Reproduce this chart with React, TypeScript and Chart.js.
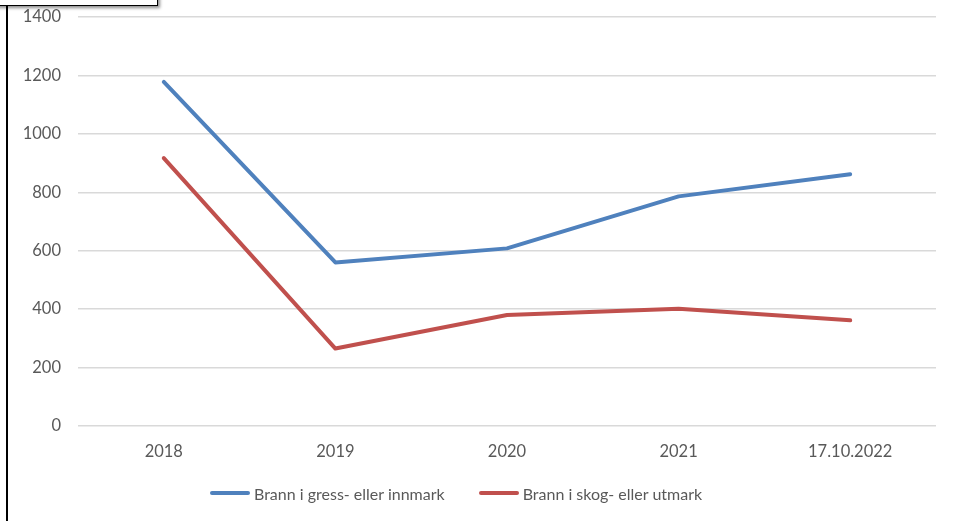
import React, { useEffect, useRef } from "react";
import { Chart, registerables } from "chart.js";

Chart.register(...registerables);

const categories = ["2018", "2019", "2020", "2021", "17.10.2022"];
const grassValues = [1178, 560, 608, 786, 862];
const forestValues = [917, 265, 380, 401, 362];
const yTicks = [0, 200, 400, 600, 800, 1000, 1200, 1400];
const seriesNames = ["Brann i gress- eller innmark", "Brann i skog- eller utmark"];
const seriesColors = ["#4f81bd", "#c0504d"];

const FONT = "Lato, 'Open Sans', sans-serif";

export default function App() {
  const ref = useRef<HTMLCanvasElement | null>(null);

  useEffect(() => {
    if (!ref.current) return;
    const chart = new Chart(ref.current, {
      type: "line",
      data: {
        labels: categories,
        datasets: [grassValues, forestValues].map((vals, i) => ({
          label: seriesNames[i],
          data: vals,
          borderColor: seriesColors[i],
          backgroundColor: seriesColors[i],
          borderWidth: 4,
          borderCapStyle: "round" as const,
          borderJoinStyle: "round" as const,
          pointRadius: 0,
          tension: 0,
        })),
      },
      options: {
        animation: false,
        responsive: false,
        devicePixelRatio: 1,
        layout: { autoPadding: false, padding: { left: 0, top: 17, right: 21, bottom: 47 } },
        plugins: {
          tooltip: { enabled: false },
          legend: { display: false },
        },
        scales: {
          x: {
            offset: true,
            grid: { display: false, drawTicks: false },
            border: { display: false },
            ticks: { color: "#595959", font: { family: FONT, size: 16.5 }, padding: 16 },
            afterFit: (s: any) => {
              s.height = 48;
              s.paddingLeft = 0;
              s.paddingRight = 0;
              s.paddingTop = 0;
              s.paddingBottom = 0;
            },
          },
          y: {
            min: 0,
            max: 1400,
            afterBuildTicks: (s: any) => {
              s.ticks = yTicks.map((v) => ({ value: v }));
            },
            grid: { color: "#d9d9d9", lineWidth: 1.5, drawTicks: false },
            border: { display: false },
            ticks: {
              color: "#595959",
              font: { family: FONT, size: 16.5 },
              padding: 17,
              callback: (v: any) => String(v),
            },
            afterFit: (s: any) => {
              s.width = 78;
              s.paddingTop = 0;
              s.paddingBottom = 0;
            },
          },
        },
      },
    });
    return () => chart.destroy();
  }, []);

  return (
    <div style={{ position: "fixed", left: 0, top: 0, width: 957, height: 521, background: "#fff", overflow: "hidden" }}>
      <canvas ref={ref} width={957} height={521} style={{ position: "absolute", left: 0, top: 0 }} />
      <div
        style={{
          position: "absolute",
          left: 210,
          top: 483,
          height: 20,
          display: "flex",
          alignItems: "center",
          fontFamily: FONT,
          fontSize: 16,
          color: "#595959",
          whiteSpace: "nowrap",
        }}
      >
        {seriesNames.map((name, i) => (
          <div key={name} style={{ display: "flex", alignItems: "center", marginRight: i === 0 ? 34 : 0 }}>
            <div style={{ width: 40, height: 4, borderRadius: 2, background: seriesColors[i], marginRight: 4 }} />
            <span>{name}</span>
          </div>
        ))}
      </div>
      <div style={{ position: "absolute", left: 6, top: 0, width: 2, height: 521, background: "#000" }} />
      <div
        style={{
          position: "absolute",
          left: -10,
          top: -10,
          width: 166,
          height: 14,
          background: "#fff",
          border: "1px solid #000",
          boxShadow: "2px 2px 3px rgba(0,0,0,0.45)",
        }}
      />
    </div>
  );
}
